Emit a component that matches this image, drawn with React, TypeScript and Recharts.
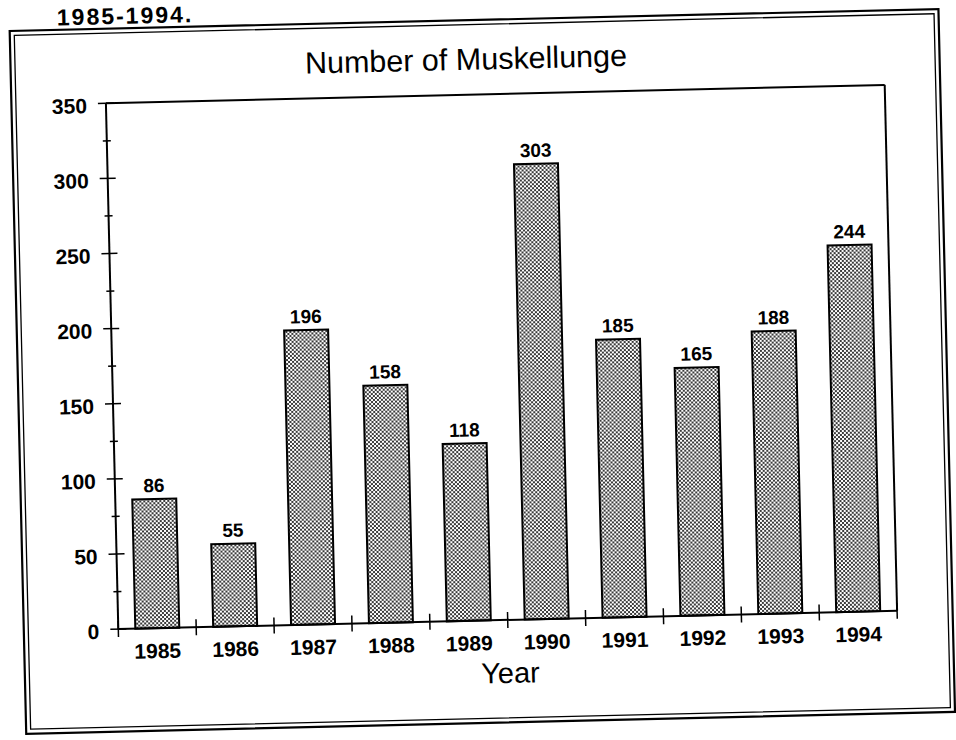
import { BarChart, Bar, XAxis, YAxis, ReferenceLine, LabelList } from "recharts";

const years = ["1985", "1986", "1987", "1988", "1989", "1990", "1991", "1992", "1993", "1994"];
const muskellunge = [86, 55, 196, 158, 118, 303, 185, 165, 188, 244];
const majorTicks = [0, 50, 100, 150, 200, 250, 300, 350];
const minorTicks = [25, 75, 125, 175, 225, 275, 325];

const data = years.map((year, i) => ({ year, count: muskellunge[i] }));
const yTicks = [...majorTicks, ...minorTicks].sort((a, b) => a - b);

const FONT = '"Liberation Sans", Arial, Helvetica, sans-serif';
// plot box (before the scan tilt): 112..891 x 94..620
const PLOT_W = 779;
const BAND = PLOT_W / years.length;

function YTick(props: any) {
  const { x, y, payload } = props;
  const major = majorTicks.includes(payload.value);
  const half = major ? 8 : 4;
  return (
    <g>
      <line x1={x - half} x2={x + half} y1={y} y2={y} stroke="#000" strokeWidth={1.5} />
      {major && (
        <text x={x - 19} y={y} dy="0.45em" textAnchor="end" fontSize={21} fontWeight="bold" fill="#000" fontFamily={FONT}>
          {payload.value}
        </text>
      )}
    </g>
  );
}

function XTick(props: any) {
  const { x, y, payload, index } = props;
  const left = x - BAND / 2;
  const right = x + BAND / 2;
  return (
    <g>
      <line x1={left} x2={left} y1={y - 8} y2={y + 8} stroke="#000" strokeWidth={1.5} />
      {index === years.length - 1 && (
        <line x1={right} x2={right} y1={y - 8} y2={y + 8} stroke="#000" strokeWidth={1.5} />
      )}
      <text x={x} y={y + 30} textAnchor="middle" fontSize={21} fontWeight="bold" fill="#000" fontFamily={FONT}>
        {payload.value}
      </text>
    </g>
  );
}

export default function App() {
  return (
    <div
      style={{
        position: "absolute",
        left: 0,
        top: 0,
        width: 956,
        height: 740,
        background: "#fff",
        fontFamily: FONT,
        transform: "rotate(-1.35deg)",
        transformOrigin: "501.5px 357px",
      }}
    >
      <BarChart width={956} height={740} data={data} margin={{ top: 94, right: 55, bottom: 60, left: 12 }}>
        <defs>
          <pattern id="musky" width="4" height="4" patternUnits="userSpaceOnUse">
            <rect width="4" height="4" fill="#fff" />
            <rect width="2" height="2" fill="#3a3a3a" />
            <rect x="2" y="2" width="2" height="2" fill="#3a3a3a" />
          </pattern>
        </defs>
        <XAxis
          dataKey="year"
          yAxisId="l"
          height={60}
          interval={0}
          tickSize={0}
          tickMargin={0}
          tickLine={false}
          axisLine={{ stroke: "#000", strokeWidth: 2 }}
          tick={XTick}
        />
        <YAxis
          yAxisId="l"
          width={100}
          domain={[0, 350]}
          ticks={yTicks}
          interval={0}
          tickSize={0}
          tickMargin={0}
          tickLine={false}
          axisLine={{ stroke: "#000", strokeWidth: 2 }}
          tick={YTick}
        />
        <YAxis
          yAxisId="r"
          orientation="right"
          width={10}
          domain={[0, 350]}
          tick={false}
          tickLine={false}
          axisLine={{ stroke: "#000", strokeWidth: 2 }}
        />
        <ReferenceLine yAxisId="l" y={350} stroke="#000" strokeWidth={2} />
        <Bar
          dataKey="count"
          yAxisId="l"
          barSize={44}
          fill="url(#musky)"
          stroke="#000"
          strokeWidth={2}
          isAnimationActive={false}
        >
          <LabelList
            dataKey="count"
            position="top"
            offset={7}
            fill="#000"
            fontSize={19}
            fontWeight="bold"
            fontFamily={FONT}
          />
        </Bar>
      </BarChart>
      <svg
        width={956}
        height={740}
        style={{ position: "absolute", left: 0, top: 0, pointerEvents: "none", overflow: "visible" }}
        fontFamily={FONT}
      >
        <rect x={17.5} y={19.5} width={929} height={703} fill="none" stroke="#000" strokeWidth={2.2} />
        <rect x={22} y={24} width={920} height={694} fill="none" stroke="#000" strokeWidth={1.3} />
        <text x={65} y={15} fontSize={23} fontWeight="bold" letterSpacing={2} fill="#000">
          1985-1994.
        </text>
        <text x={473} y={69} fontSize={30.5} textAnchor="middle" fill="#000">
          Number of Muskellunge
        </text>
        <text x={503} y={683} fontSize={29} textAnchor="middle" fill="#000">
          Year
        </text>
      </svg>
    </div>
  );
}
